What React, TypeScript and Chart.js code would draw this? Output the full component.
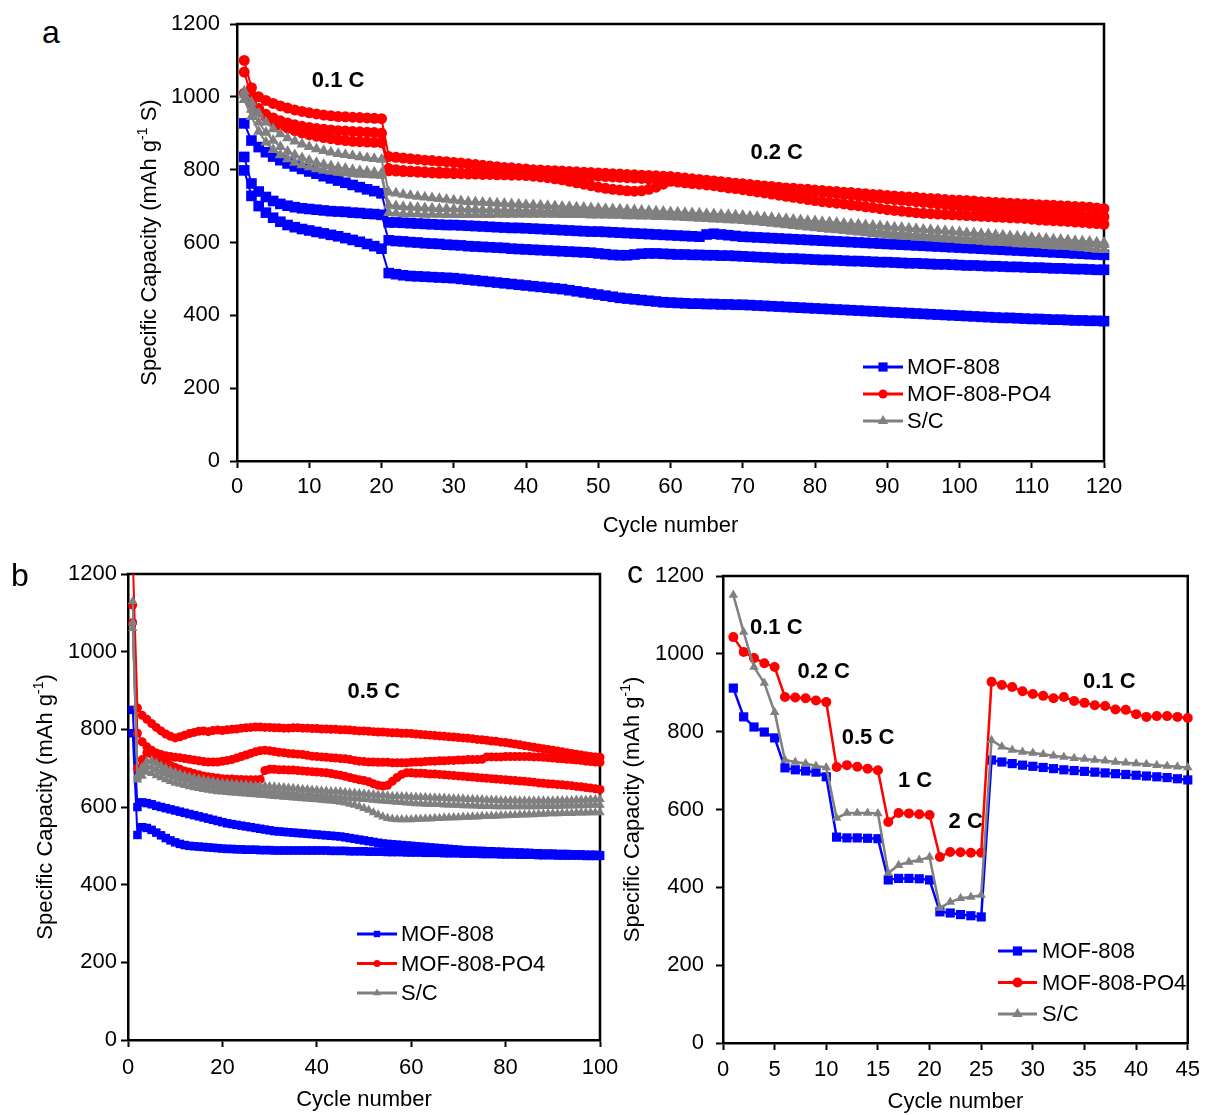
import React, { useEffect, useRef } from 'react';
import { Chart, registerables } from 'chart.js';

Chart.register(...registerables);

const FONT = "'Liberation Sans', Arial, Helvetica, sans-serif";
const BLUE = '#0000ff';
const RED = '#ff0000';
const GRAY = '#808080';

// ---------------- Panel a: 0.1 C (cycles 1-20), 0.2 C (cycles 21-120) ----------------
const aMof808_1 = [
  927, 880, 862, 848, 836, 826, 817, 809, 802, 795, 789, 782, 776, 770, 764, 758, 752, 746, 741, 735,
  655, 655, 654, 653, 652, 651, 650, 649, 648, 648, 647, 646, 645, 644, 643, 642, 641, 640, 640, 639,
  638, 637, 636, 635, 634, 633, 632, 631, 630, 630, 629, 628, 627, 626, 625, 624, 623, 622, 621, 620,
  619, 618, 617, 616, 622, 624, 622, 620, 618, 616, 615, 614, 613, 612, 611, 610, 609, 608, 607, 606,
  605, 604, 603, 602, 601, 600, 599, 598, 597, 596, 595, 594, 593, 592, 591, 590, 589, 588, 587, 586,
  585, 584, 583, 582, 581, 580, 579, 578, 577, 576, 575, 574, 573, 572, 571, 570, 569, 568, 567, 566,
];
const aMof808_2 = [
  835, 762, 740, 725, 714, 706, 701, 697, 694, 692, 690, 688, 686, 685, 684, 682, 681, 679, 678, 676,
  606, 604, 603, 601, 600, 598, 597, 596, 594, 593, 592, 590, 589, 588, 587, 586, 585, 583, 582, 581,
  580, 579, 578, 577, 576, 575, 574, 573, 572, 570, 568, 566, 565, 565, 567, 569, 570, 570, 569, 568,
  567, 567, 566, 566, 565, 565, 564, 564, 563, 562, 561, 560, 559, 558, 557, 556, 556, 555, 554, 553,
  552, 552, 551, 550, 549, 549, 548, 547, 546, 546, 545, 544, 543, 543, 542, 541, 540, 540, 539, 538,
  537, 537, 536, 535, 535, 534, 533, 533, 532, 531, 531, 530, 529, 529, 528, 527, 527, 526, 525, 525,
];
const aMof808_3 = [
  798, 728, 700, 682, 668, 657, 648, 642, 637, 633, 629, 625, 621, 617, 612, 607, 602, 596, 590, 583,
  516, 513, 510, 508, 507, 506, 505, 504, 503, 502, 500, 498, 496, 494, 492, 490, 488, 486, 484, 482,
  480, 478, 476, 474, 472, 469, 466, 463, 460, 457, 454, 451, 448, 446, 444, 442, 440, 438, 436, 435,
  434, 433, 432, 432, 431, 431, 430, 430, 429, 429, 428, 427, 426, 425, 424, 423, 422, 421, 420, 419,
  418, 417, 416, 415, 414, 413, 412, 411, 410, 409, 408, 407, 406, 405, 404, 403, 402, 401, 400, 399,
  398, 397, 396, 395, 394, 393, 393, 392, 391, 390, 390, 389, 388, 388, 387, 386, 386, 385, 385, 384,
];
const aPO4_1 = [
  1100, 1025, 1000, 990, 982, 975, 969, 964, 960, 956, 953, 950, 948, 946, 945, 944, 943, 942, 941, 940,
  836, 834, 832, 830, 828, 826, 825, 823, 822, 820, 818, 816, 814, 812, 810, 808, 806, 805, 803, 802,
  800, 799, 798, 797, 796, 795, 794, 793, 792, 791, 790, 789, 788, 787, 786, 785, 784, 783, 782, 781,
  779, 777, 775, 773, 771, 769, 767, 765, 763, 761, 759, 757, 755, 754, 752, 750, 749, 747, 746, 744,
  743, 741, 740, 738, 737, 735, 734, 732, 731, 729, 728, 726, 725, 724, 722, 721, 720, 718, 717, 716,
  715, 714, 712, 711, 710, 709, 708, 707, 706, 705, 704, 703, 702, 701, 700, 699, 698, 697, 695, 693,
];
const aPO4_2 = [
  1068, 1000, 968, 952, 942, 934, 928, 923, 919, 916, 913, 911, 909, 907, 906, 905, 904, 903, 902, 900,
  797, 796, 795, 794, 793, 792, 791, 790, 790, 789, 789, 788, 788, 787, 787, 786, 786, 785, 785, 784,
  782, 780, 778, 775, 772, 768, 764, 760, 756, 752, 749, 746, 744, 742, 741, 742, 746, 752, 760, 768,
  770, 771, 771, 770, 769, 768, 766, 764, 762, 760, 758, 756, 754, 752, 750, 748, 746, 744, 742, 740,
  738, 736, 734, 732, 730, 728, 726, 724, 722, 720, 718, 716, 714, 712, 710, 708, 706, 704, 702, 700,
  698, 697, 695, 694, 692, 691, 689, 688, 686, 685, 683, 682, 680, 679, 677, 676, 674, 673, 671, 670,
];
const aPO4_3 = [
  1010, 985, 960, 945, 932, 922, 914, 907, 901, 896, 892, 888, 885, 882, 880, 878, 877, 876, 875, 874,
  803, 800, 798, 796, 795, 794, 793, 793, 792, 792, 791, 791, 790, 790, 789, 789, 788, 788, 787, 787,
  786, 786, 785, 785, 784, 784, 783, 783, 782, 782, 781, 780, 779, 778, 777, 776, 775, 774, 772, 770,
  766, 764, 762, 760, 758, 756, 753, 750, 748, 745, 742, 739, 736, 733, 730, 727, 724, 721, 718, 715,
  712, 710, 708, 706, 703, 701, 698, 696, 693, 690, 688, 686, 684, 682, 680, 679, 678, 677, 676, 675,
  674, 673, 672, 671, 670, 669, 668, 667, 666, 664, 662, 661, 660, 659, 658, 656, 655, 653, 652, 650,
];
const aSC_1 = [
  1015, 985, 955, 930, 912, 898, 887, 878, 870, 863, 857, 852, 848, 844, 841, 838, 835, 832, 830, 828,
  738, 735, 732, 729, 726, 724, 722, 720, 718, 716, 714, 712, 711, 710, 709, 708, 707, 706, 705, 704,
  703, 702, 701, 700, 699, 698, 697, 696, 695, 694, 693, 692, 691, 690, 689, 688, 687, 686, 685, 684,
  683, 682, 681, 680, 679, 678, 677, 676, 675, 674, 672, 671, 669, 668, 666, 665, 663, 662, 660, 659,
  657, 656, 654, 653, 651, 650, 648, 647, 645, 644, 642, 641, 639, 638, 636, 635, 633, 632, 630, 629,
  627, 626, 624, 623, 621, 620, 618, 617, 615, 614, 612, 611, 609, 608, 607, 605, 604, 603, 601, 600,
];
const aSC_2 = [
  1005, 965, 930, 902, 880, 863, 850, 840, 832, 825, 819, 814, 810, 806, 803, 800, 797, 795, 793, 790,
  702, 700, 698, 697, 696, 695, 694, 693, 693, 692, 692, 691, 691, 690, 690, 690, 689, 689, 689, 688,
  688, 688, 687, 687, 686, 686, 685, 685, 684, 684, 683, 683, 682, 682, 681, 681, 680, 680, 679, 679,
  678, 677, 676, 675, 674, 673, 672, 671, 670, 669, 667, 665, 663, 661, 659, 657, 655, 653, 651, 649,
  647, 645, 643, 641, 639, 637, 635, 633, 631, 629, 627, 626, 624, 623, 621, 620, 618, 617, 615, 614,
  613, 612, 611, 610, 609, 608, 607, 606, 605, 604, 603, 602, 601, 600, 599, 598, 597, 596, 595, 594,
];
const aSC_3 = [
  992, 945, 905, 875, 855, 840, 829, 820, 813, 807, 802, 798, 795, 792, 790, 788, 787, 786, 785, 784,
  682, 680, 679, 678, 678, 677, 677, 677, 676, 676, 676, 676, 676, 676, 676, 677, 677, 677, 677, 677,
  677, 677, 677, 677, 676, 676, 676, 676, 675, 675, 675, 674, 674, 673, 673, 672, 672, 671, 671, 670,
  669, 668, 667, 666, 665, 664, 663, 662, 661, 660, 658, 656, 654, 652, 650, 648, 646, 644, 642, 640,
  638, 636, 634, 632, 630, 628, 626, 624, 622, 620, 618, 617, 616, 614, 613, 612, 610, 609, 608, 606,
  605, 604, 603, 601, 600, 599, 598, 596, 595, 594, 593, 591, 590, 589, 588, 586, 585, 583, 581, 580,
];

// ---------------- Panel b: 0.5 C, cycles 1-100 ----------------
const bMof808_1 = [
  850, 600, 612, 610, 607, 603, 600, 597, 594, 591, 588, 585, 582, 579, 576, 573, 570, 567, 564, 561,
  558, 556, 554, 552, 550, 548, 546, 544, 542, 540, 538, 537, 536, 535, 534, 533, 532, 531, 530, 529,
  528, 527, 526, 525, 524, 522, 520, 518, 516, 514, 512, 510, 508, 506, 505, 504, 503, 502, 501, 500,
  499, 498, 497, 496, 495, 494, 493, 492, 491, 490, 489, 488, 488, 487, 487, 486, 486, 485, 485, 484,
  484, 483, 483, 482, 482, 481, 481, 480, 480, 480, 479, 479, 479, 478, 478, 478, 477, 477, 477, 476,
];
const bMof808_2 = [
  790, 528, 548, 546, 541, 534, 527, 520, 514, 509, 505, 502, 500, 499, 498, 497, 496, 495, 494, 493,
  492, 492, 491, 491, 490, 490, 490, 489, 489, 489, 488, 488, 488, 488, 488, 488, 488, 488, 488, 488,
  488, 488, 487, 487, 487, 487, 486, 486, 486, 486, 485, 485, 485, 485, 484, 484, 484, 484, 483, 483,
  483, 483, 482, 482, 482, 482, 481, 481, 481, 481, 480, 480, 480, 480, 479, 479, 479, 479, 478, 478,
  478, 478, 477, 477, 477, 477, 476, 476, 476, 476, 475, 475, 475, 475, 475, 475, 474, 474, 474, 474,
];
const bPO4_1 = [
  1245, 855, 836, 826, 815, 805, 796, 788, 782, 778, 781, 785, 789, 792, 795, 796, 794, 797, 798, 797,
  799, 800, 801, 803, 804, 805, 806, 806, 805, 805, 804, 804, 803, 803, 804, 804, 803, 803, 802, 802,
  801, 801, 800, 800, 799, 799, 798, 797, 796, 796, 795, 794, 793, 793, 792, 791, 791, 790, 790, 789,
  788, 787, 786, 785, 784, 783, 782, 781, 780, 779, 778, 777, 776, 774, 773, 772, 770, 769, 767, 766,
  764, 762, 760, 758, 756, 754, 752, 750, 748, 746, 744, 742, 740, 738, 736, 734, 732, 730, 729, 728,
];
const bPO4_2 = [
  1120, 790, 768, 755, 746, 739, 735, 732, 730, 728, 727, 725, 723, 721, 719, 717, 716, 716, 716, 718,
  720, 722, 726, 730, 734, 738, 742, 745, 746, 745, 743, 741, 740, 738, 737, 736, 735, 733, 731, 730,
  729, 728, 727, 726, 725, 724, 722, 720, 718, 717, 716, 716, 715, 715, 715, 714, 714, 714, 714, 715,
  716, 716, 717, 718, 718, 719, 719, 720, 720, 721, 721, 722, 722, 722, 723, 729, 729, 729, 729, 730,
  730, 730, 730, 730, 730, 729, 729, 728, 727, 726, 725, 724, 723, 722, 721, 720, 718, 717, 716, 715,
];
const bPO4_3 = [
  1075, 700, 722, 740, 736, 728, 720, 713, 707, 702, 697, 693, 690, 686, 683, 680, 678, 676, 675, 673,
  672, 672, 671, 671, 670, 670, 670, 671, 694, 697, 697, 696, 696, 695, 695, 694, 693, 692, 691, 690,
  689, 688, 686, 684, 682, 679, 676, 673, 670, 668, 665, 660, 656, 654, 656, 666, 676, 684, 688, 688,
  687, 687, 686, 685, 685, 684, 683, 682, 681, 680, 679, 678, 677, 676, 675, 674, 673, 672, 671, 670,
  669, 668, 667, 666, 665, 664, 662, 661, 660, 659, 658, 657, 656, 655, 653, 652, 650, 649, 647, 645,
];
const bSC_1 = [
  1130, 682, 702, 718, 720, 713, 706, 700, 694, 689, 685, 681, 678, 675, 672, 670, 668, 666, 664, 662,
  661, 660, 659, 658, 657, 656, 655, 654, 654, 653, 652, 651, 650, 649, 648, 647, 646, 645, 644, 643,
  642, 641, 640, 640, 639, 638, 637, 636, 635, 634, 633, 632, 631, 630, 629, 628, 628, 627, 627, 626,
  626, 625, 625, 624, 624, 623, 623, 622, 622, 621, 621, 620, 620, 619, 619, 618, 618, 618, 617, 617,
  617, 617, 616, 616, 616, 616, 616, 616, 616, 616, 617, 617, 617, 617, 618, 618, 618, 619, 619, 620,
];
const bSC_2 = [
  1075, 676, 692, 705, 703, 697, 691, 686, 681, 677, 673, 670, 667, 664, 661, 658, 656, 654, 652, 650,
  649, 648, 647, 646, 645, 644, 643, 642, 641, 640, 639, 638, 637, 636, 635, 634, 633, 632, 631, 630,
  629, 628, 627, 626, 625, 624, 623, 622, 621, 620, 619, 618, 617, 616, 615, 614, 613, 612, 611, 610,
  609, 609, 608, 608, 607, 607, 606, 606, 605, 605, 604, 604, 603, 603, 602, 602, 602, 601, 601, 601,
  601, 601, 601, 601, 601, 601, 601, 602, 602, 602, 602, 603, 603, 603, 604, 604, 604, 605, 605, 605,
];
const bSC_3 = [
  1060, 670, 680, 690, 687, 681, 676, 671, 666, 662, 659, 656, 653, 650, 648, 646, 644, 642, 640, 639,
  638, 637, 636, 635, 634, 633, 632, 631, 630, 629, 628, 627, 626, 625, 624, 623, 622, 621, 620, 619,
  618, 617, 616, 615, 613, 611, 608, 605, 601, 597, 592, 586, 580, 575, 571, 569, 568, 568, 568, 568,
  569, 569, 570, 570, 571, 571, 572, 572, 573, 573, 574, 574, 575, 575, 576, 576, 577, 577, 578, 578,
  579, 579, 580, 580, 581, 581, 582, 582, 583, 583, 583, 584, 584, 584, 585, 585, 585, 586, 586, 586,
];

// ---------------- Panel c: rate capability, cycles 1-45 ----------------
const cMof808 = [
  912, 838, 812, 799, 784, 707, 702, 699, 696, 684, 529, 527, 527, 526, 525,
  419, 423, 423, 422, 419, 337, 334, 330, 327, 324, 727, 722, 718, 714, 711,
  708, 705, 702, 700, 698, 696, 694, 692, 690, 688, 686, 684, 682, 679, 676,
];
const cPO4 = [
  1043, 1005, 989, 976, 966, 889, 888, 886, 880, 876, 709, 714, 710, 705, 701,
  568, 591, 590, 588, 586, 478, 491, 490, 489, 489, 928, 920, 915, 904, 897,
  892, 886, 889, 879, 874, 868, 866, 857, 856, 845, 838, 840, 840, 838, 835,
];
const cSC = [
  1151, 1056, 966, 925, 850, 727, 722, 718, 712, 708, 578, 591, 591, 591, 590,
  437, 457, 465, 470, 478, 347, 362, 372, 375, 380, 778, 761, 753, 748, 745,
  742, 738, 735, 732, 730, 727, 725, 722, 720, 718, 716, 714, 712, 710, 708,
];

const seriesNames = ['MOF-808', 'MOF-808-PO4', 'S/C'];
const yTicks = [0, 200, 400, 600, 800, 1000, 1200];

// ---------------- helpers ----------------
function drawMarker(ctx: CanvasRenderingContext2D, style: string, x: number, y: number, r: number) {
  ctx.beginPath();
  if (style === 'rect') {
    const s = r * Math.SQRT1_2;
    ctx.rect(x - s, y - s, 2 * s, 2 * s);
  } else if (style === 'triangle') {
    let a = 0;
    ctx.moveTo(x + Math.sin(a) * r, y - Math.cos(a) * r);
    a += (2 * Math.PI) / 3;
    ctx.lineTo(x + Math.sin(a) * r, y - Math.cos(a) * r);
    a += (2 * Math.PI) / 3;
    ctx.lineTo(x + Math.sin(a) * r, y - Math.cos(a) * r);
    ctx.closePath();
  } else {
    ctx.arc(x, y, r, 0, Math.PI * 2);
  }
  ctx.fill();
}

const decor = {
  id: 'decor',
  beforeDatasetsDraw(chart: any) {
    const { ctx, chartArea: ca } = chart;
    ctx.save();
    ctx.strokeStyle = '#000';
    ctx.lineWidth = 2.5;
    ctx.lineCap = 'square';
    ctx.beginPath();
    ctx.moveTo(ca.left, ca.top);
    ctx.lineTo(ca.right, ca.top);
    ctx.lineTo(ca.right, ca.bottom);
    ctx.stroke();
    ctx.restore();
  },
  afterDraw(chart: any, _args: any, o: any) {
    const { ctx, chartArea: ca, scales } = chart;
    ctx.save();
    // rate annotations
    ctx.fillStyle = '#000';
    ctx.font = `bold 22px ${FONT}`;
    ctx.textAlign = 'center';
    ctx.textBaseline = 'middle';
    for (const n of o.notes || []) {
      ctx.fillText(n.text, scales.x.getPixelForValue(n.x), scales.y.getPixelForValue(n.y));
    }
    // legend
    const L = o.legend;
    L.items.forEach((it: any, i: number) => {
      const y = ca.top + L.dy + i * L.gap;
      const x0 = ca.left + L.dx;
      ctx.strokeStyle = it.color;
      ctx.lineWidth = L.lw;
      ctx.lineCap = 'butt';
      ctx.beginPath();
      ctx.moveTo(x0, y);
      ctx.lineTo(x0 + L.len, y);
      ctx.stroke();
      ctx.fillStyle = it.color;
      drawMarker(ctx, it.style, x0 + L.len / 2, y, it.r);
      ctx.fillStyle = '#000';
      ctx.font = `22px ${FONT}`;
      ctx.textAlign = 'left';
      ctx.textBaseline = 'middle';
      ctx.fillText(it.label, x0 + L.len + L.textGap, y + 1);
    });
    // y-axis title with superscript
    const T = o.ytitle;
    const cy = (ca.top + ca.bottom) / 2;
    ctx.translate(T.x, cy);
    ctx.rotate(-Math.PI / 2);
    ctx.fillStyle = '#000';
    ctx.textAlign = 'left';
    ctx.textBaseline = 'middle';
    const big = `22px ${FONT}`;
    const small = `14px ${FONT}`;
    ctx.font = big;
    const w1 = ctx.measureText(T.main).width;
    const w3 = ctx.measureText(T.tail).width;
    ctx.font = small;
    const w2 = ctx.measureText(T.sup).width;
    let x = -(w1 + w2 + w3) / 2;
    ctx.font = big;
    ctx.fillText(T.main, x, 0);
    x += w1;
    ctx.font = small;
    ctx.fillText(T.sup, x, -7);
    x += w2;
    ctx.font = big;
    ctx.fillText(T.tail, x, 0);
    ctx.restore();
  },
};

function line(values: number[], name: string, color: string, style: string, r: number, order: number, lw: number, clip: any) {
  return {
    label: name,
    data: values.map((v, i) => ({ x: i + 1, y: v })),
    borderColor: color,
    backgroundColor: color,
    pointBackgroundColor: color,
    pointBorderColor: color,
    pointBorderWidth: 0,
    pointStyle: style,
    pointRadius: r,
    pointHoverRadius: r,
    borderWidth: lw,
    tension: 0,
    order,
    clip,
  };
}

function axisBase(tickLen: number, pad: number) {
  return {
    ticks: {
      color: '#000',
      font: { size: 22, family: FONT },
      padding: pad,
      autoSkip: false,
      maxRotation: 0,
      callback: (v: any) => String(v),
    },
    grid: { display: true, drawOnChartArea: false, drawTicks: true, tickLength: tickLen, tickWidth: 2, tickColor: '#000', color: '#000' },
    border: { display: true, color: '#000', width: 2.5 },
  };
}

function makeConfig(p: any) {
  const bx = axisBase(p.tickLen, p.padX);
  const by = axisBase(p.tickLen, p.padY);
  return {
    type: 'line',
    data: { datasets: p.datasets },
    plugins: [decor],
    options: {
      responsive: false,
      animation: false,
      events: [],
      layout: { padding: { top: p.padTop, right: p.padRight, left: 0, bottom: 0 } },
      plugins: {
        legend: { display: false },
        tooltip: { enabled: false },
        decor: p.decor,
      },
      scales: {
        x: {
          type: 'linear',
          min: 0,
          max: p.xMax,
          ...bx,
          ticks: { ...bx.ticks, stepSize: p.xStep },
          title: {
            display: true,
            text: 'Cycle number',
            color: '#000',
            font: { size: 22, family: FONT },
            padding: { top: 0, bottom: p.xTitlePad },
          },
          afterFit: (s: any) => { s.height = p.xHeight; },
        },
        y: {
          type: 'linear',
          min: 0,
          max: 1200,
          ...by,
          ticks: { ...by.ticks, stepSize: 200 },
          afterBuildTicks: (s: any) => { s.ticks = yTicks.map((v) => ({ value: v })); },
          afterFit: (s: any) => { s.width = p.yWidth; },
        },
      },
    },
  };
}

function Panel({ left, top, width, height, config }: any) {
  const ref = useRef<HTMLCanvasElement>(null);
  useEffect(() => {
    const chart = new Chart(ref.current as HTMLCanvasElement, config() as any);
    return () => chart.destroy();
  }, []);
  return (
    <div style={{ position: 'absolute', left, top, width, height }}>
      <canvas ref={ref} width={width} height={height} style={{ width, height, display: 'block' }} />
    </div>
  );
}

function legendItems(rs: number[]) {
  return [
    { label: seriesNames[0], color: BLUE, style: 'rect', r: rs[0] },
    { label: seriesNames[1], color: RED, style: 'circle', r: rs[1] },
    { label: seriesNames[2], color: GRAY, style: 'triangle', r: rs[2] },
  ];
}

const noClip = false;
const clipB = { left: 10, top: 0, right: 10, bottom: 10 };

const configA = () =>
  makeConfig({
    xMax: 120, xStep: 10, yWidth: 117, xHeight: 89, padTop: 24, padRight: 26, xTitlePad: 11,
    tickLen: 7, padX: 6, padY: 10,
    datasets: [
      line(aMof808_1, seriesNames[0], BLUE, 'rect', 7.5, 2, 2, noClip),
      line(aMof808_2, seriesNames[0], BLUE, 'rect', 7.5, 2, 2, noClip),
      line(aMof808_3, seriesNames[0], BLUE, 'rect', 7.5, 2, 2, noClip),
      line(aPO4_1, seriesNames[1], RED, 'circle', 5.5, 1, 2, noClip),
      line(aPO4_2, seriesNames[1], RED, 'circle', 5.5, 1, 2, noClip),
      line(aPO4_3, seriesNames[1], RED, 'circle', 5.5, 1, 2, noClip),
      line(aSC_1, seriesNames[2], GRAY, 'triangle', 6.5, 0, 2, noClip),
      line(aSC_2, seriesNames[2], GRAY, 'triangle', 6.5, 0, 2, noClip),
      line(aSC_3, seriesNames[2], GRAY, 'triangle', 6.5, 0, 2, noClip),
    ],
    decor: {
      notes: [
        { text: '0.1 C', x: 14.0, y: 1043 },
        { text: '0.2 C', x: 74.7, y: 847 },
      ],
      legend: { dx: 626, dy: 343, gap: 27, len: 40, lw: 3, textGap: 4, items: legendItems([6.5, 4.5, 6]) },
      ytitle: { x: 30, main: 'Specific Capacity (mAh g', sup: '-1', tail: ' S)' },
    },
  });

const configB = () =>
  makeConfig({
    xMax: 100, xStep: 20, yWidth: 128, xHeight: 75, padTop: 24, padRight: 30, xTitlePad: 2,
    tickLen: 7, padX: 8, padY: 4,
    datasets: [
      line(bMof808_1, seriesNames[0], BLUE, 'rect', 6, 2, 2, clipB),
      line(bMof808_2, seriesNames[0], BLUE, 'rect', 6, 2, 2, clipB),
      line(bPO4_1, seriesNames[1], RED, 'circle', 4.5, 1, 2, clipB),
      line(bPO4_2, seriesNames[1], RED, 'circle', 4.5, 1, 2, clipB),
      line(bPO4_3, seriesNames[1], RED, 'circle', 4.5, 1, 2, clipB),
      line(bSC_1, seriesNames[2], GRAY, 'triangle', 5.5, 0, 2, clipB),
      line(bSC_2, seriesNames[2], GRAY, 'triangle', 5.5, 0, 2, clipB),
      line(bSC_3, seriesNames[2], GRAY, 'triangle', 5.5, 0, 2, clipB),
    ],
    decor: {
      notes: [{ text: '0.5 C', x: 52.1, y: 896 }],
      legend: { dx: 229, dy: 360, gap: 29.5, len: 40, lw: 3, textGap: 4, items: legendItems([4.5, 3.5, 4.5]) },
      ytitle: { x: 46, main: 'Specific Capacity (mAh g', sup: '-1', tail: ')' },
    },
  });

const configC = () =>
  makeConfig({
    xMax: 45, xStep: 5, yWidth: 111, xHeight: 72, padTop: 26, padRight: 13, xTitlePad: 0,
    tickLen: 7, padX: 7, padY: 12,
    datasets: [
      line(cMof808, seriesNames[0], BLUE, 'rect', 6.5, 2, 2.5, noClip),
      line(cPO4, seriesNames[1], RED, 'circle', 5, 1, 2.5, noClip),
      line(cSC, seriesNames[2], GRAY, 'triangle', 5.5, 0, 2.5, noClip),
    ],
    decor: {
      notes: [
        { text: '0.1 C', x: 5.16, y: 1066 },
        { text: '0.2 C', x: 9.75, y: 953 },
        { text: '0.5 C', x: 14.04, y: 784 },
        { text: '1 C', x: 18.6, y: 673 },
        { text: '2 C', x: 23.5, y: 568 },
        { text: '0.1 C', x: 37.4, y: 928 },
      ],
      legend: { dx: 275, dy: 375, gap: 31.5, len: 39, lw: 3, textGap: 5, items: legendItems([6.5, 5, 6]) },
      ytitle: { x: 21, main: 'Specific Capacity (mAh g', sup: '-1', tail: ')' },
    },
  });

const labelStyle: React.CSSProperties = {
  position: 'absolute',
  fontFamily: FONT,
  fontSize: 32,
  lineHeight: '32px',
  color: '#000',
};

export default function App() {
  return (
    <div style={{ position: 'absolute', left: 0, top: 0, width: 1207, height: 1115, background: '#fff', overflow: 'hidden' }}>
      <Panel left={120} top={0} width={1010} height={550} config={configA} />
      <Panel left={0} top={550} width={630} height={565} config={configB} />
      <Panel left={612} top={550} width={595} height={565} config={configC} />
      <div style={{ ...labelStyle, left: 42, top: 16 }}>a</div>
      <div style={{ ...labelStyle, left: 11, top: 559 }}>b</div>
      <div style={{ ...labelStyle, left: 627, top: 556 }}>c</div>
    </div>
  );
}
